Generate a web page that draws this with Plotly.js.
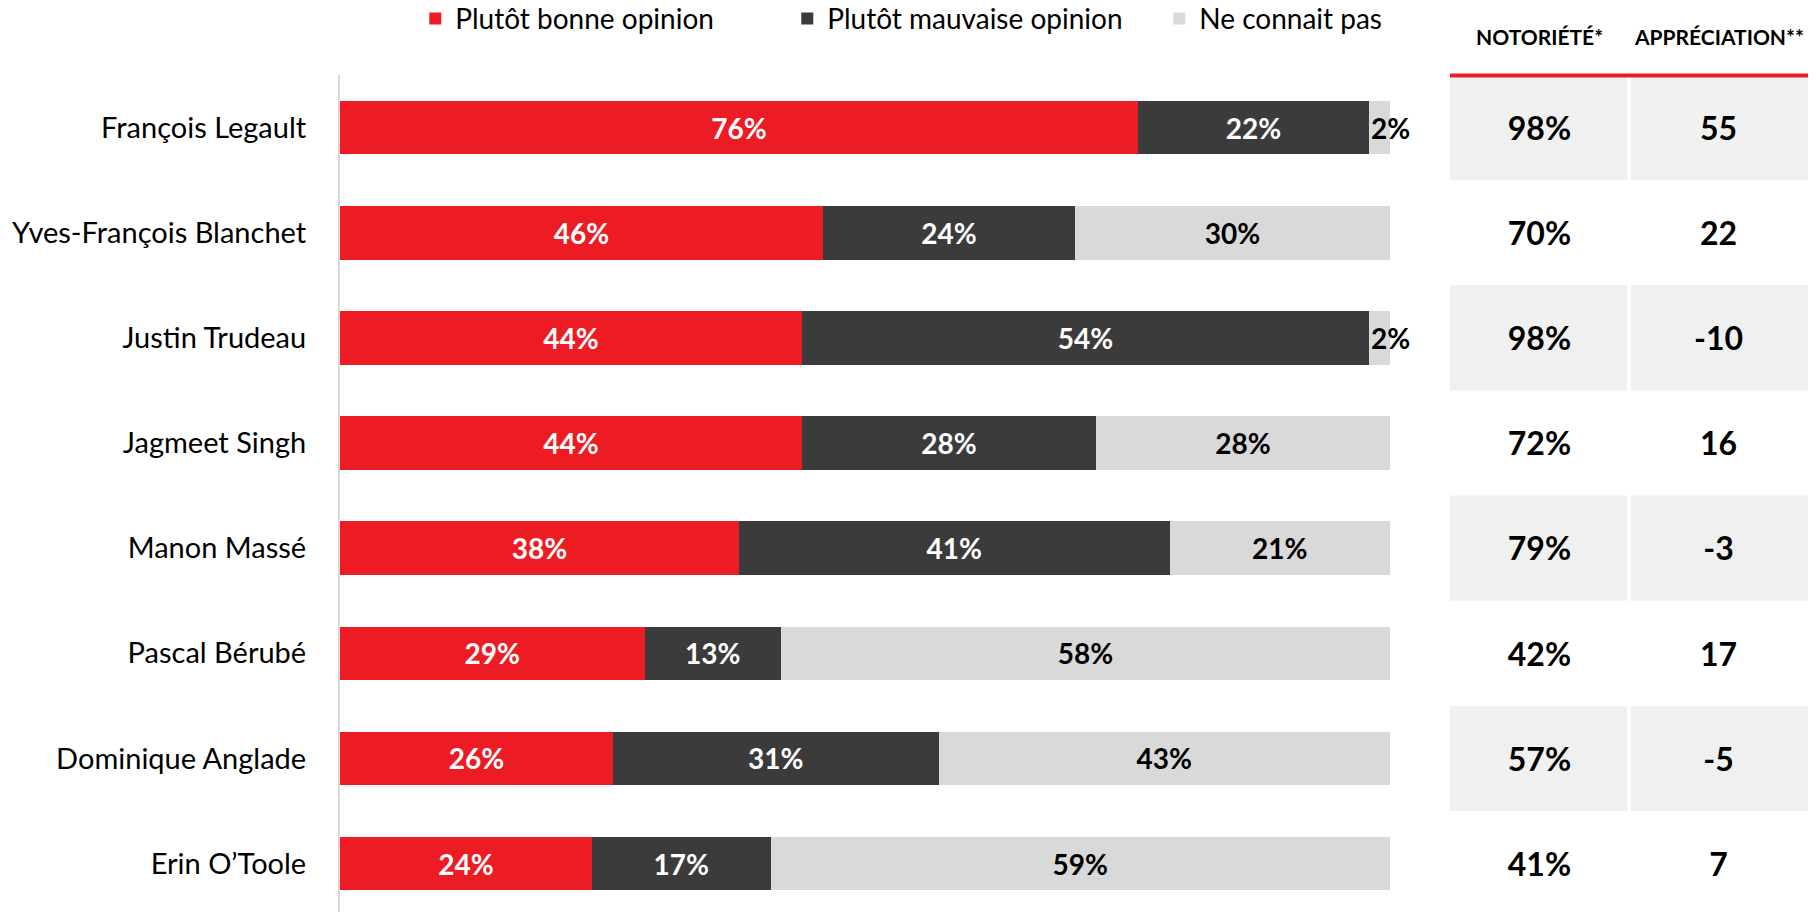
<!DOCTYPE html>
<html>
<head>
<meta charset="utf-8">
<script src="https://cdn.plot.ly/plotly-3.0.1.min.js"></script>
<style>html,body{margin:0;padding:0;background:#fff;}#chart{width:1816px;height:912px;}</style>
</head>
<body>
<div id="chart"></div>
<script>
const categories = ["François Legault", "Yves-François Blanchet", "Justin Trudeau", "Jagmeet Singh", "Manon Massé", "Pascal Bérubé", "Dominique Anglade", "Erin O’Toole"];
const bonne = [76, 46, 44, 44, 38, 29, 26, 24];
const mauvaise = [22, 24, 54, 28, 41, 13, 31, 17];
const neConnaitPas = [2, 30, 2, 28, 21, 58, 43, 59];
const notoriete = [98, 70, 98, 72, 79, 42, 57, 41];
const appreciation = [55, 22, -10, 16, -3, 17, -5, 7];
const seriesNames = ["Plutôt bonne opinion", "Plutôt mauvaise opinion", "Ne connait pas"];
const tableHeaders = ["NOTORIÉTÉ*", "APPRÉCIATION**"];

const RED = "#ED1C24", DARK = "#3B3B3B", LIGHT = "#D9D9D9", CELL = "#F0F0F0";
const FONT = "Lato";
const small = v => v < 5;

const barFont = (c) => ({family: FONT, size: 28, color: c, weight: 700});

const traces = [
  {type: "bar", orientation: "h", name: seriesNames[0], y: categories, x: bonne,
   marker: {color: RED}, texttemplate: "%{x}%", textposition: "inside", insidetextanchor: "middle",
   textfont: barFont("#FFFFFF"), constraintext: "none"},
  {type: "bar", orientation: "h", name: seriesNames[1], y: categories, x: mauvaise,
   marker: {color: DARK}, texttemplate: "%{x}%", textposition: "inside", insidetextanchor: "middle",
   textfont: barFont("#FFFFFF"), constraintext: "none"},
  {type: "bar", orientation: "h", name: seriesNames[2], y: categories, x: neConnaitPas,
   marker: {color: LIGHT}, texttemplate: "%{x}%",
   textposition: neConnaitPas.map(v => small(v) ? "none" : "inside"), insidetextanchor: "middle",
   textfont: barFont("#000000"), constraintext: "none"},
  {type: "scatter", mode: "text", xaxis: "x2", yaxis: "y2", showlegend: false,
   x: categories.map(() => 0.5), y: categories, text: notoriete.map(v => v + "%"),
   textfont: {family: FONT, size: 32, color: "#000", weight: 700}, hoverinfo: "skip"},
  {type: "scatter", mode: "text", xaxis: "x2", yaxis: "y2", showlegend: false,
   x: categories.map(() => 1.5), y: categories, text: appreciation.map(v => String(v)),
   textfont: {family: FONT, size: 32, color: "#000", weight: 700}, hoverinfo: "skip"}
];

const shapes = [];
categories.forEach((c, i) => {
  if (i % 2 === 0) {
    shapes.push({type: "rect", xref: "x2", yref: "y", x0: 0, x1: 0.99, y0: i - 0.5, y1: i + 0.5,
      fillcolor: CELL, line: {width: 0}, layer: "below"});
    shapes.push({type: "rect", xref: "x2", yref: "y", x0: 1.01, x1: 2, y0: i - 0.5, y1: i + 0.5,
      fillcolor: CELL, line: {width: 0}, layer: "below"});
  }
});
shapes.push({type: "line", xref: "x2", yref: "paper", x0: 0, x1: 2, y0: 0.9995, y1: 0.9995,
  line: {color: RED, width: 4}, layer: "above"});

const annotations = [];
tableHeaders.forEach((h, j) => {
  annotations.push({xref: "x2", yref: "paper", x: j + 0.5, y: 1.046, text: h, showarrow: false,
    xanchor: "center", yanchor: "middle", font: {family: FONT, size: 21, color: "#000", weight: 700}});
});
categories.forEach((c, i) => {
  if (small(neConnaitPas[i])) {
    annotations.push({xref: "x", yref: "y", x: bonne[i] + mauvaise[i] + neConnaitPas[i], y: c,
      text: neConnaitPas[i] + "%", showarrow: false, xanchor: "center", yanchor: "middle",
      font: barFont("#000000")});
  }
});

const layout = {
  width: 1816, height: 912,
  margin: {l: 340, r: 0, t: 75, b: 0, pad: 0, autoexpand: false},
  paper_bgcolor: "#fff", plot_bgcolor: "#fff",
  barmode: "stack", bargap: 0.49,
  font: {family: FONT, color: "#000"},
  xaxis: {domain: [0, 0.71138], range: [0, 100], visible: false, fixedrange: true},
  xaxis2: {domain: [0.752, 0.9946], range: [0, 2], visible: false, anchor: "y", fixedrange: true},
  yaxis: {type: "category", range: [7.46, -0.5], showline: true, linecolor: LIGHT, linewidth: 2,
    showgrid: false, zeroline: false, ticks: "", ticklabelstandoff: 26,
    tickfont: {family: FONT, size: 29, color: "#000"}, fixedrange: true},
  yaxis2: {type: "category", overlaying: "y", range: [7.42, -0.54], visible: false, fixedrange: true},
  showlegend: true,
  legend: {orientation: "h", traceorder: "normal", x: 0.051, xanchor: "left",
    yref: "container", y: 0.9795, yanchor: "middle",
    font: {family: FONT, size: 28, color: "#000"}, entrywidth: 327, entrywidthmode: "pixels",
    bgcolor: "rgba(0,0,0,0)"},
  shapes: shapes,
  annotations: annotations,
  hovermode: false
};

Plotly.newPlot("chart", traces, layout, {displayModeBar: false, staticPlot: true});
</script>
</body>
</html>
